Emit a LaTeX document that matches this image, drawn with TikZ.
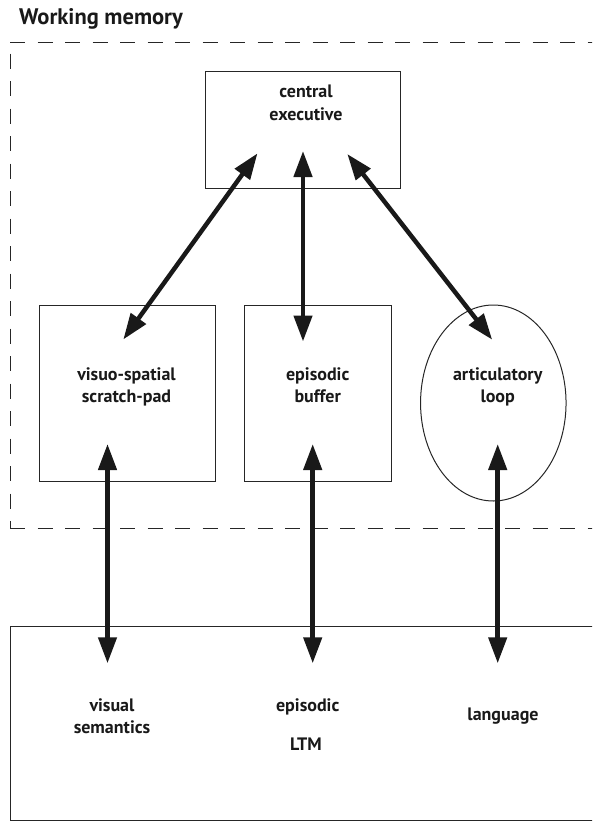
\documentclass[tikz,border=0pt]{standalone}
\usepackage{fontspec}
\setmainfont{PT Sans}
\usetikzlibrary{arrows.meta,shapes.geometric}
\begin{document}
\begin{tikzpicture}[x=1pt,y=-1pt,
  frame/.style={draw=black!85, line width=1pt, inner sep=0pt},
  wmline/.style={draw=black!85, line width=1pt, dash pattern=on 15pt off 12.5pt},
  link/.style={draw=black!90, line width=4.5pt,
    {Triangle[length=26pt,width=18pt]}-{Triangle[length=26pt,width=18pt]}},
  lbl/.style={font=\bfseries\fontsize{18}{22}\selectfont, anchor=base,
    inner sep=0pt, text=black!90},
  heading/.style={font=\bfseries\fontsize{22.5}{26}\selectfont, anchor=base west,
    inner sep=0pt, text=black!90}]
\useasboundingbox (0,0) rectangle (592,822);
\clip (0,0) rectangle (592,822);

% heading
\node[heading] (title) at (19,24) {Working memory};

% working-memory boundary (open on the right)
\draw[wmline] (10,42) -- (600,42);
\draw[wmline] (10,528) -- (600,528);
\draw[wmline, dash phase=16pt] (10,42) -- (10,528);

% components
\node[frame, minimum width=195pt, minimum height=117pt] (ce) at (302.5,129.5) {};
\node[frame, minimum width=176pt, minimum height=176pt] (vs) at (127,393) {};
\node[frame, minimum width=147pt, minimum height=176pt] (eb) at (317.5,393) {};
\node[frame, ellipse, minimum width=145.5pt, minimum height=196pt] (al) at (493.3,403) {};
\node[frame, minimum width=600pt, minimum height=194pt] (ltm) at (310,723.7) {};

% labels
\node[lbl] (ce1) at (306,97) {central};
\node[lbl] (ce2) at (306,120) {executive};
\node[lbl] (vs1) at (126.5,380.7) {visuo-spatial};
\node[lbl] (vs2) at (126.5,402.3) {scratch-pad};
\node[lbl] (eb1) at (317.7,380.7) {episodic};
\node[lbl] (eb2) at (317.7,402.3) {buffer};
\node[lbl] (al1) at (497.7,380.7) {articulatory};
\node[lbl] (al2) at (497.7,402.3) {loop};
\node[lbl] (vsem1) at (112,711.7) {visual};
\node[lbl] (vsem2) at (112,733.3) {semantics};
\node[lbl] (epi1) at (307.7,711.7) {episodic};
\node[lbl] (epi2) at (306,750.7) {LTM};
\node[lbl] (lang) at (503,720.7) {language};

% connector ends
\coordinate (ce-a) at (257.5,153.3);
\coordinate (vs-a) at (123.3,339.5);
\coordinate (ce-b) at (303,151);
\coordinate (eb-a) at (303,341.5);
\coordinate (ce-c) at (347.3,154);
\coordinate (al-a) at (492.2,339.7);
\coordinate (vs-b) at (107.5,444);
\coordinate (vsem-a) at (107.5,663.3);
\coordinate (eb-b) at (312.7,444);
\coordinate (epi-a) at (312.7,663.3);
\coordinate (al-b) at (497.7,444);
\coordinate (lang-a) at (497.7,663.3);

% two-way links
\draw[link] (ce-a) -- (vs-a);
\draw[link] (ce-b) -- (eb-a);
\draw[link] (ce-c) -- (al-a);
\draw[link] (vs-b) -- (vsem-a);
\draw[link] (eb-b) -- (epi-a);
\draw[link] (al-b) -- (lang-a);
\end{tikzpicture}
\end{document}
